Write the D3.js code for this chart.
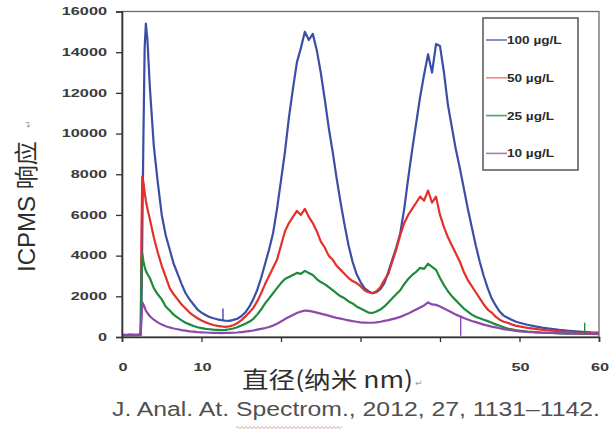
<!DOCTYPE html>
<html>
<head>
<meta charset="utf-8">
<script src="https://cdn.jsdelivr.net/npm/d3@7"></script>
<style>
  html, body { margin: 0; padding: 0; background: #fff; }
  svg { display: block; }
</style>
</head>
<body>
<svg id="chart" width="616" height="434"></svg>
<script>
// ---------------- DATA ----------------
const diameters = [0,0.5,1,1.5,2,2.35,2.45,2.55,2.7,2.85,3.0,3.2,3.5,
  4,4.5,5,5.5,6,6.5,7,7.5,8,8.5,9,9.5,10,10.5,11,11.5,12,12.5,13,13.5,14,14.5,
  15,15.5,16,16.5,17,17.5,18,18.5,19,19.5,20,20.5,21,21.5,22,22.5,23,23.5,24,24.5,
  25,25.5,26,26.5,27,27.5,28,28.5,29,29.5,30,30.5,31,31.5,32,32.5,33,33.5,34,34.5,
  35,35.5,36,36.5,37,37.5,38,38.5,39,39.5,40,40.5,41,41.5,42,42.5,43,43.5,44,44.5,
  45,45.5,46,46.5,47,47.5,48,48.5,49,49.5,50,51,52,53,54,55,56,57,58,59,60];

const seriesNames = ["100 µg/L", "50 µg/L", "25 µg/L", "10 µg/L"];

const resp100 = [110,90,120,100,110,130,1500,5000,10000,14200,15400,14600,12300,
  9400,7600,6000,5000,4300,3600,3100,2600,2150,1850,1600,1350,1200,1080,980,920,870,830,800,790,840,900,
  1020,1200,1480,1850,2300,2900,3600,4300,5100,6300,7700,9100,10800,12200,13500,14200,15000,14600,14900,14100,
  13000,11700,10300,9100,7800,6600,5500,4500,3700,3100,2700,2400,2250,2150,2200,2350,2650,3200,3800,4400,
  5100,6300,7800,9200,10500,11800,12900,13900,13000,14400,14300,13000,11400,10300,9200,8300,7300,6300,5400,4500,
  3700,3000,2400,1900,1550,1250,1050,950,850,760,700,600,520,450,400,350,310,280,250,230,220];

const resp50 = [100,80,110,90,100,120,5200,7900,7600,7100,6700,6300,5800,
  4900,4150,3500,2950,2400,2100,1850,1600,1400,1200,1050,920,810,720,650,590,550,520,500,520,580,680,
  820,1000,1200,1420,1750,2150,2600,3000,3400,3800,4500,5200,5600,5900,6200,6000,6300,5900,5600,5200,
  4700,4400,4000,3800,3500,3300,3100,2900,2750,2650,2500,2300,2200,2150,2250,2450,2800,3100,3700,4300,
  5000,5600,6000,6300,6600,6900,6700,7200,6600,6900,6000,5400,4900,4500,4100,3700,3200,2800,2500,2200,
  1900,1600,1350,1200,1000,850,750,700,620,560,520,450,400,350,320,280,250,220,200,190,180];

const resp25 = [90,110,80,100,90,110,3300,4100,3700,3450,3250,3100,2900,
  2400,2100,1850,1500,1300,1100,950,820,700,620,540,480,440,400,380,360,350,340,350,380,420,480,
  560,650,750,880,1100,1350,1650,1900,2150,2400,2650,2850,2950,3050,3150,3100,3250,3150,3050,2850,
  2700,2600,2450,2300,2150,2000,1900,1750,1650,1500,1400,1300,1200,1180,1250,1350,1500,1700,1900,2100,
  2300,2600,2850,3050,3200,3400,3350,3600,3450,3300,2900,2550,2250,2000,1800,1600,1400,1250,1100,1000,
  920,850,780,700,620,550,480,420,380,340,310,270,240,210,200,180,170,160,150,150,140];

const resp10 = [100,90,110,90,100,110,900,1700,1600,1450,1300,1180,1020,
  850,720,610,530,470,420,380,340,310,280,260,240,230,220,210,200,200,195,200,205,210,220,
  240,260,290,320,360,400,440,490,560,650,760,880,980,1080,1180,1250,1300,1280,1250,1200,
  1150,1100,1050,990,940,900,860,820,780,750,720,710,700,700,720,750,790,830,880,930,
  990,1070,1150,1250,1350,1450,1550,1700,1600,1580,1500,1400,1300,1200,1100,1020,930,860,790,730,
  670,610,560,510,470,430,390,360,330,300,280,250,230,210,200,190,180,170,160,150,150];

const responses = [resp100, resp50, resp25, resp10];

// isolated single-channel spikes: [series index, diameter, from, to]
const spikeSeries = [3, 2, 0];
const spikeX      = [42.6, 58.2, 12.7];
const spikeFrom   = [1050, 150, 820];
const spikeTo     = [60, 700, 1400];

const xTicks = [0, 10, 20, 30, 40, 50, 60];
// labels 20–40 are hidden behind the axis title in the source
const xTickLabels = ["0", "10", "", "", "", "50", "60"];
const yTicks = [0, 2000, 4000, 6000, 8000, 10000, 12000, 14000, 16000];

const yTitle = "ICPMS 响应";
const xTitle = "直径(纳米 nm)";
const caption = "J. Anal. At. Spectrom., 2012, 27, 1131–1142.";

// ---------------- STYLE ----------------
const colors = ["#3a4ea6", "#e2312b", "#1f8a3b", "#8b4aa9"];
const legendColors = ["#6a78bf", "#ef8c86", "#4aa46a", "#a27bbd"];

const svg = d3.select("#chart");
const M = { left: 122, right: 599, top: 11.5, bottom: 337 };

const x = d3.scaleLinear().domain([0, 60]).range([M.left, M.right]);
const y = d3.scaleLinear().domain([0, 16000]).range([M.bottom, M.top]);

const tickFont = "'Liberation Sans', Arial, sans-serif";

// Curves
const line = d3.line().x(d => x(d[0])).y(d => y(d[1]));
responses.forEach((vals, i) => {
  const pts = diameters.map((d, j) => [d, vals[j]]);
  svg.append("path")
    .attr("d", line(pts))
    .attr("fill", "none")
    .attr("stroke", colors[i])
    .attr("stroke-width", 2.2)
    .attr("stroke-linejoin", "round");
});
spikeX.forEach((sx, k) => {
  svg.append("line")
    .attr("x1", x(sx)).attr("x2", x(sx))
    .attr("y1", y(spikeFrom[k])).attr("y2", y(spikeTo[k]))
    .attr("stroke", colors[spikeSeries[k]])
    .attr("stroke-width", 1.4);
});

// Frame
svg.append("rect")
  .attr("x", M.left).attr("y", M.top)
  .attr("width", M.right - M.left).attr("height", M.bottom - M.top)
  .attr("fill", "none").attr("stroke", "#6b6b6b").attr("stroke-width", 1.3);

// Axes
const yAxis = d3.axisLeft(y).tickValues(yTicks).tickSize(6).tickFormat("");
const gy = svg.append("g").attr("transform", `translate(${M.left},0)`).call(yAxis);
gy.select(".domain").attr("stroke", "#333").attr("stroke-width", 1.6);
gy.selectAll(".tick line").attr("stroke", "#333").attr("stroke-width", 1.3);

const xAxis = d3.axisBottom(x).tickValues(xTicks).tickSize(5).tickFormat("");
const gx = svg.append("g").attr("transform", `translate(0,${M.bottom})`).call(xAxis);
gx.select(".domain").attr("stroke", "#333").attr("stroke-width", 1.6);
gx.selectAll(".tick line").attr("stroke", "#333").attr("stroke-width", 1.3);

// stretched text helper
function stext(px, py, str, opts) {
  return svg.append("text")
    .attr("transform", `translate(${px},${py}) scale(${opts.sx || 1},1)`)
    .attr("text-anchor", opts.anchor || "start")
    .attr("dy", opts.dy || "0.35em")
    .style("font-family", opts.family || tickFont)
    .style("font-size", opts.size + "px")
    .style("font-weight", opts.weight || "normal")
    .attr("fill", opts.fill || "#333")
    .text(str);
}

yTicks.forEach(v => stext(107, y(v), String(v), { anchor: "end", size: 10.5, weight: "bold", sx: 1.55, fill: "#3a3a3a" }));
xTicks.forEach((v, i) => {
  if (xTickLabels[i]) stext(x(v) + 1, 367, xTickLabels[i], { anchor: "middle", size: 10.5, weight: "bold", sx: 1.55, fill: "#3a3a3a" });
});

// Legend
const lg = svg.append("g");
lg.append("rect").attr("x", 483).attr("y", 18).attr("width", 95).attr("height", 152)
  .attr("fill", "#fff").attr("stroke", "#555").attr("stroke-width", 1.5);
seriesNames.forEach((nm, i) => {
  const cy = 40 + i * 37.8;
  lg.append("line").attr("x1", 486).attr("x2", 507).attr("y1", cy).attr("y2", cy)
    .attr("stroke", legendColors[i]).attr("stroke-width", 1.6);
  stext(507, cy, nm, { anchor: "start", size: 11.5, weight: "bold", sx: 1.18, fill: "#2a2a2a" });
});

// X title
svg.append("text")
  .attr("x", 242).attr("y", 388)
  .attr("textLength", 171).attr("lengthAdjust", "spacingAndGlyphs")
  .style("font-family", "'Noto Sans CJK SC', 'Liberation Sans', sans-serif")
  .style("font-size", "23px")
  .attr("fill", "#2e2e2e")
  .text(xTitle);
svg.append("text").attr("x", 415).attr("y", 386)
  .style("font-family", "'DejaVu Sans', sans-serif").style("font-size", "9px")
  .attr("fill", "#999").text("↵");

// Y title
svg.append("text")
  .attr("transform", "translate(35,272) rotate(-90)")
  .style("font-family", "'Liberation Sans', 'Noto Sans CJK SC', sans-serif")
  .style("font-size", "24px")
  .attr("fill", "#2e2e2e")
  .text(yTitle);
svg.append("text").attr("transform", "translate(31,128) rotate(-90)")
  .style("font-family", "'DejaVu Sans', sans-serif").style("font-size", "9px")
  .attr("fill", "#999").text("↵");

// Caption
const cap = svg.append("text")
  .attr("x", 112).attr("y", 416)
  .attr("textLength", 488).attr("lengthAdjust", "spacingAndGlyphs")
  .style("font-family", "'Liberation Sans', Arial, sans-serif")
  .style("font-size", "20px")
  .attr("fill", "#505050")
  .text(caption);

// spell-check squiggle under "Spectrom"
const node = cap.node();
const si = caption.indexOf("Spectrom");
const sx0 = node.getStartPositionOfChar(si).x;
const sx1 = node.getEndPositionOfChar(si + 7).x;
const sq = d3.path();
sq.moveTo(sx0, 428);
let up = true;
for (let p = sx0 + 2; p <= sx1; p += 2) { sq.lineTo(p, up ? 426.5 : 428.5); up = !up; }
svg.append("path").attr("d", sq.toString()).attr("fill", "none")
  .attr("stroke", "#e58a8a").attr("stroke-width", 0.9);
</script>
</body>
</html>
